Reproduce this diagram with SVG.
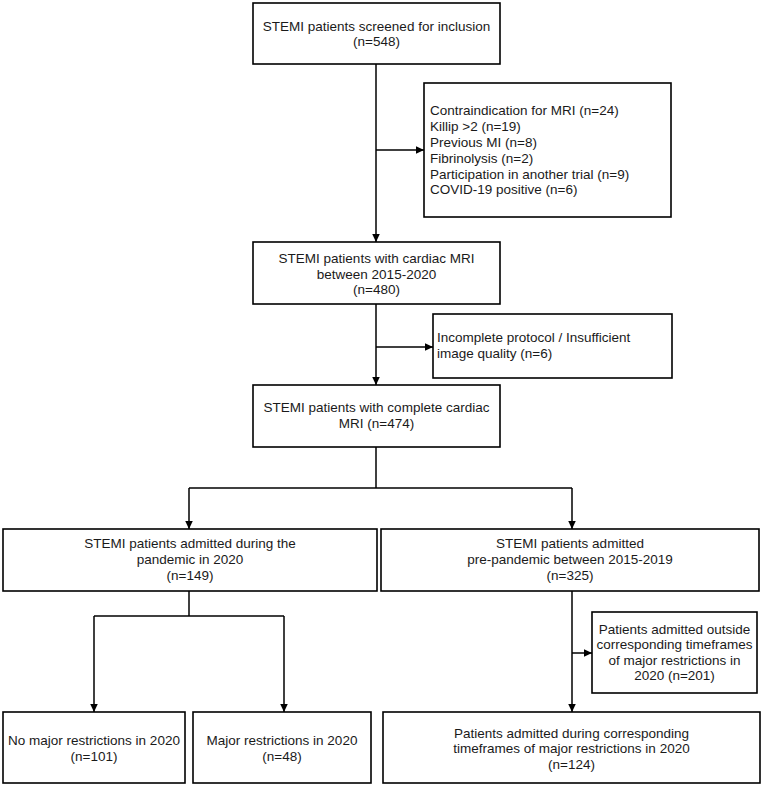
<svg xmlns="http://www.w3.org/2000/svg" width="762" height="787" viewBox="0 0 762 787">
<style>
  .box{fill:#fff;stroke:#000;stroke-width:1.6}
  .t{font-family:"Liberation Sans",Arial,sans-serif;font-size:13.5px;fill:#1a1a1a}
  .c{text-anchor:middle}
  .ln{fill:none;stroke:#000;stroke-width:1.5}
</style>
<defs>
  <marker id="ah" markerUnits="userSpaceOnUse" markerWidth="9" markerHeight="9" refX="8.5" refY="4" orient="auto">
    <path d="M0,0 L8.5,4 L0,8 z" fill="#000"/>
  </marker>
</defs>
<rect width="762" height="787" fill="#fff"/>
<g id="connectors">
  <path class="ln" d="M376,64 V242" marker-end="url(#ah)"/>
  <path class="ln" d="M376,150 H424" marker-end="url(#ah)"/>
  <path class="ln" d="M376,304 V385" marker-end="url(#ah)"/>
  <path class="ln" d="M376,347 H433" marker-end="url(#ah)"/>
  <path class="ln" d="M376,447 V488"/>
  <path class="ln" d="M189,488 H572"/>
  <path class="ln" d="M189,488 V529" marker-end="url(#ah)"/>
  <path class="ln" d="M572,488 V529" marker-end="url(#ah)"/>
  <path class="ln" d="M189,591 V616"/>
  <path class="ln" d="M94,616 H284"/>
  <path class="ln" d="M94,616 V712" marker-end="url(#ah)"/>
  <path class="ln" d="M284,616 V712" marker-end="url(#ah)"/>
  <path class="ln" d="M572,591 V712" marker-end="url(#ah)"/>
  <path class="ln" d="M572,653 H592" marker-end="url(#ah)"/>
</g>
<g id="n1">
  <rect class="box" x="253" y="3" width="247" height="61"/>
  <text class="t c" x="376.5" y="31">STEMI patients screened for inclusion</text>
  <text class="t c" x="376.5" y="46">(n=548)</text>
</g>
<g id="ex1">
  <rect class="box" x="424" y="83" width="247" height="134"/>
  <text class="t" x="430" y="115">Contraindication for MRI (n=24)</text>
  <text class="t" x="430" y="131">Killip &gt;2 (n=19)</text>
  <text class="t" x="430" y="147">Previous MI (n=8)</text>
  <text class="t" x="430" y="162.8">Fibrinolysis (n=2)</text>
  <text class="t" x="430" y="178.6">Participation in another trial (n=9)</text>
  <text class="t" x="430" y="194.4">COVID-19 positive (n=6)</text>
</g>
<g id="n2">
  <rect class="box" x="253" y="242" width="247" height="62"/>
  <text class="t c" x="376.5" y="263">STEMI patients with cardiac MRI</text>
  <text class="t c" x="376.5" y="278.5">between 2015-2020</text>
  <text class="t c" x="376.5" y="294">(n=480)</text>
</g>
<g id="ex2">
  <rect class="box" x="433" y="314" width="239" height="64"/>
  <text class="t" x="437" y="341.7">Incomplete protocol / Insufficient</text>
  <text class="t" x="437" y="357.5">image quality (n=6)</text>
</g>
<g id="n3">
  <rect class="box" x="253" y="385" width="247" height="62"/>
  <text class="t c" x="376.5" y="412">STEMI patients with complete cardiac</text>
  <text class="t c" x="376.5" y="428">MRI (n=474)</text>
</g>
<g id="n4">
  <rect class="box" x="3" y="529" width="374" height="62"/>
  <text class="t c" x="190" y="547.5">STEMI patients admitted during the</text>
  <text class="t c" x="190" y="563.5">pandemic in 2020</text>
  <text class="t c" x="190" y="579.5">(n=149)</text>
</g>
<g id="n5">
  <rect class="box" x="381" y="529" width="378" height="62"/>
  <text class="t c" x="570" y="547.5">STEMI patients admitted</text>
  <text class="t c" x="570" y="563.5">pre-pandemic between 2015-2019</text>
  <text class="t c" x="570" y="579.5">(n=325)</text>
</g>
<g id="ex3">
  <rect class="box" x="592" y="612" width="165" height="81"/>
  <text class="t c" x="674.5" y="633.5">Patients admitted outside</text>
  <text class="t c" x="674.5" y="649">corresponding timeframes</text>
  <text class="t c" x="674.5" y="664.5">of major restrictions in</text>
  <text class="t c" x="674.5" y="680">2020 (n=201)</text>
</g>
<g id="n6">
  <rect class="box" x="3" y="712" width="182" height="71"/>
  <text class="t c" x="94" y="745">No major restrictions in 2020</text>
  <text class="t c" x="94" y="761">(n=101)</text>
</g>
<g id="n7">
  <rect class="box" x="193" y="712" width="178" height="71"/>
  <text class="t c" x="282" y="745">Major restrictions in 2020</text>
  <text class="t c" x="282" y="761">(n=48)</text>
</g>
<g id="n8">
  <rect class="box" x="383" y="712" width="377" height="71"/>
  <text class="t c" x="571.5" y="737.5">Patients admitted during corresponding</text>
  <text class="t c" x="571.5" y="753">timeframes of major restrictions in 2020</text>
  <text class="t c" x="571.5" y="768.5">(n=124)</text>
</g>
</svg>
